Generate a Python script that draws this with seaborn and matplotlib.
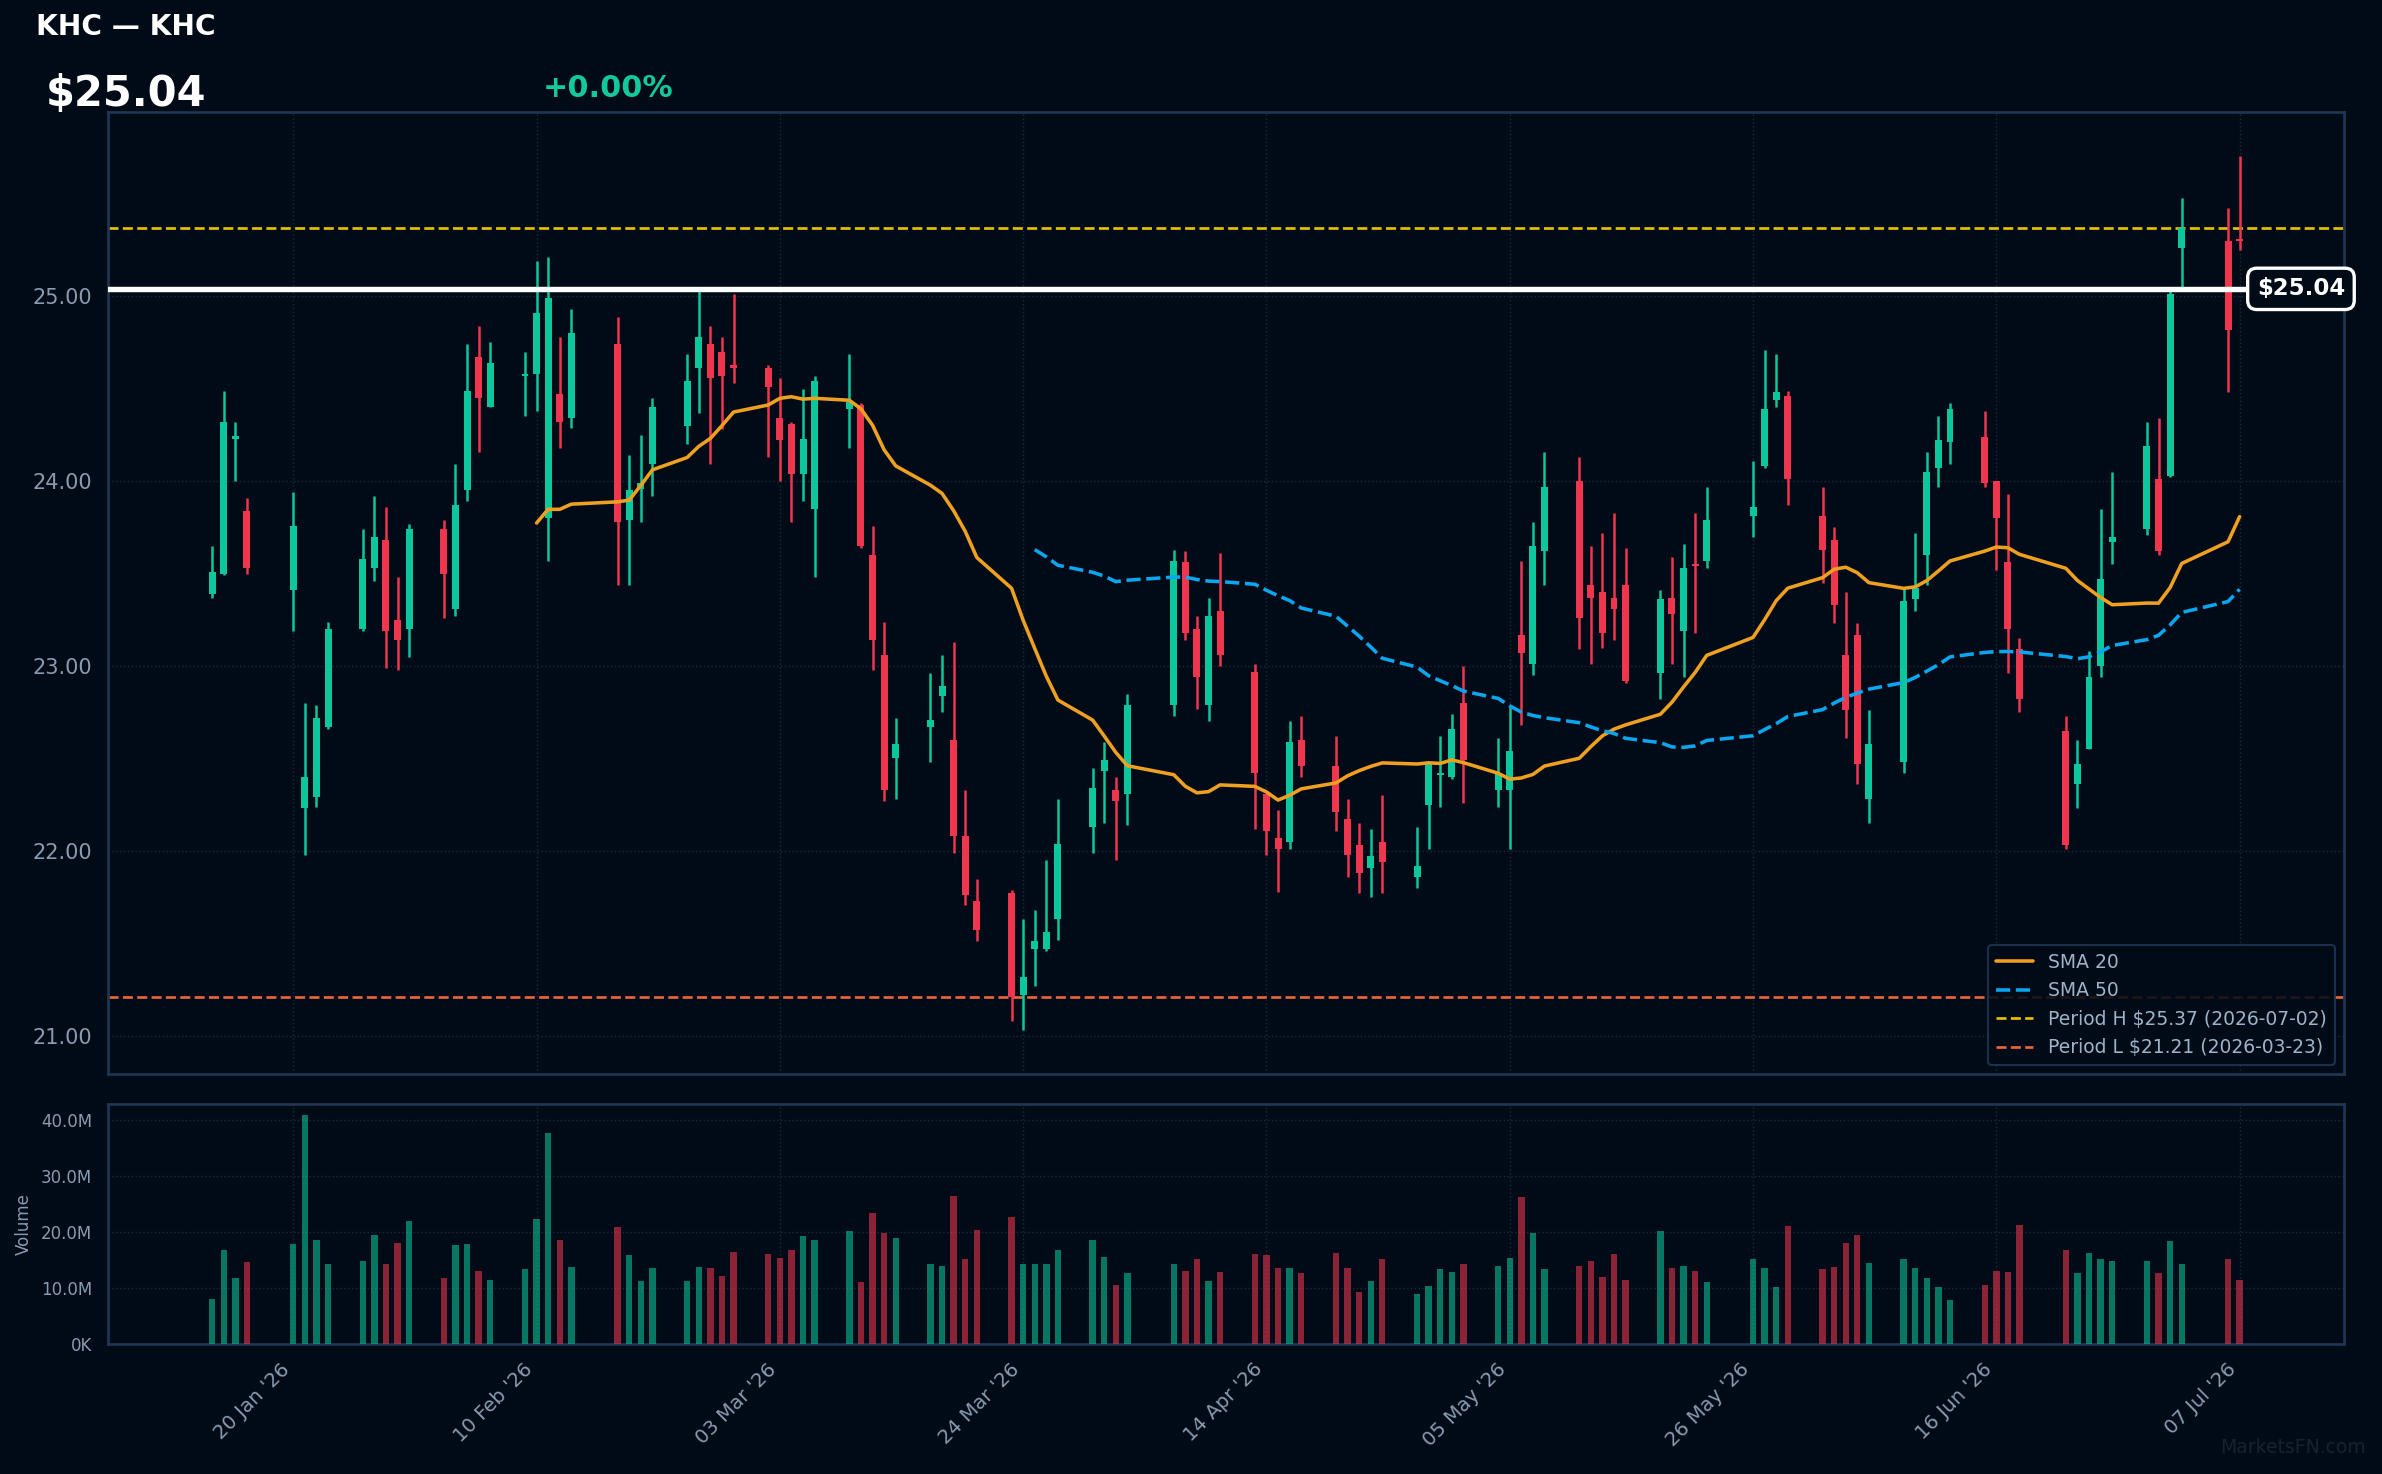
import numpy as np
import pandas as pd
import matplotlib
matplotlib.use("Agg")
import matplotlib.pyplot as plt
import matplotlib.dates as mdates
import matplotlib.ticker as mticker
import matplotlib.transforms as mtransforms
import seaborn as sns

# ---------------- data ----------------
TICKER = "KHC"
NAME = "KHC"
LAST_PRICE = 25.04
CHANGE_PCT = 0.00

HOLIDAYS = ["2026-01-19", "2026-02-16", "2026-04-03", "2026-05-25", "2026-06-19", "2026-07-03"]
dates = pd.bdate_range("2026-01-13", "2026-07-07", freq="C", holidays=HOLIDAYS)

opens = [23.39, 23.50, 24.23, 23.84, 23.41, 22.23, 22.29, 22.67, 23.20, 23.53,
         23.68, 23.25, 23.20, 23.74, 23.31, 23.95, 24.67, 24.40, 24.57, 24.58,
         23.80, 24.47, 24.34, 24.74, 23.79, 23.96, 24.09, 24.30, 24.61, 24.74,
         24.70, 24.63, 24.61, 24.34, 24.31, 24.04, 23.85, 24.39, 24.41, 23.60,
         23.06, 22.50, 22.67, 22.84, 22.60, 22.08, 21.73, 21.77, 21.22, 21.47,
         21.47, 21.63, 22.13, 22.43, 22.33, 22.31, 22.79, 23.56, 23.20, 22.79,
         23.30, 22.97, 22.31, 22.07, 22.05, 22.60, 22.46, 22.17, 22.03, 21.91,
         22.05, 21.86, 22.25, 22.41, 22.40, 22.80, 22.33, 22.33, 23.17, 23.01,
         23.62, 24.00, 23.44, 23.40, 23.37, 23.44, 22.96, 23.37, 23.19, 23.55,
         23.57, 23.81, 24.08, 24.44, 24.46, 23.81, 23.68, 23.06, 23.17, 22.28,
         22.48, 23.36, 23.60, 24.07, 24.21, 24.24, 24.00, 23.56, 23.09, 22.65,
         22.36, 22.55, 23.00, 23.67, 23.74, 24.01, 24.03, 25.26, 25.30, 25.31]
highs = [23.65, 24.49, 24.32, 23.91, 23.94, 22.80, 22.79, 23.24, 23.74, 23.92,
         23.86, 23.48, 23.77, 23.79, 24.09, 24.74, 24.84, 24.75, 24.70, 25.19,
         25.21, 24.78, 24.93, 24.89, 24.14, 24.25, 24.45, 24.69, 25.03, 24.84,
         24.78, 25.01, 24.63, 24.56, 24.32, 24.50, 24.57, 24.69, 24.42, 23.76,
         23.24, 22.72, 22.96, 23.06, 23.13, 22.33, 21.85, 21.79, 21.63, 21.68,
         21.95, 22.28, 22.45, 22.59, 22.40, 22.85, 23.63, 23.62, 23.27, 23.37,
         23.61, 23.01, 22.31, 22.22, 22.70, 22.73, 22.62, 22.28, 22.15, 22.12,
         22.30, 22.13, 22.48, 22.62, 22.74, 23.00, 22.61, 22.78, 23.57, 23.78,
         24.16, 24.13, 23.65, 23.72, 23.83, 23.64, 23.41, 23.59, 23.66, 23.83,
         23.97, 24.11, 24.71, 24.69, 24.49, 23.97, 23.75, 23.40, 23.23, 22.76,
         23.42, 23.72, 24.16, 24.35, 24.42, 24.38, 24.00, 23.93, 23.15, 22.73,
         22.60, 23.08, 23.85, 24.05, 24.32, 24.34, 25.03, 25.53, 25.48, 25.76]
lows = [23.37, 23.49, 24.00, 23.50, 23.19, 21.98, 22.24, 22.66, 23.19, 23.46,
        22.99, 22.98, 23.05, 23.26, 23.27, 23.89, 24.16, 24.40, 24.35, 24.38,
        23.57, 24.18, 24.29, 23.44, 23.44, 23.78, 23.92, 24.20, 24.37, 24.09,
        24.28, 24.53, 24.13, 24.00, 23.78, 23.89, 23.48, 24.18, 23.64, 22.98,
        22.27, 22.28, 22.48, 22.75, 21.99, 21.71, 21.51, 21.08, 21.03, 21.27,
        21.46, 21.52, 21.99, 22.15, 21.95, 22.14, 22.73, 23.14, 22.77, 22.70,
        23.00, 22.12, 21.98, 21.78, 22.01, 22.40, 22.11, 21.86, 21.77, 21.75,
        21.77, 21.80, 22.01, 22.24, 22.39, 22.26, 22.24, 22.01, 22.68, 22.95,
        23.44, 23.09, 23.01, 23.10, 23.14, 22.91, 22.82, 23.01, 22.94, 23.18,
        23.53, 23.70, 24.07, 24.40, 23.87, 23.45, 23.23, 22.61, 22.36, 22.15,
        22.42, 23.30, 23.44, 23.97, 24.09, 23.97, 23.52, 22.96, 22.75, 22.01,
        22.23, 22.55, 22.94, 23.55, 23.71, 23.60, 24.02, 25.05, 24.48, 25.25]
closes = [23.51, 24.32, 24.24, 23.53, 23.76, 22.40, 22.72, 23.20, 23.58, 23.70,
          23.19, 23.14, 23.74, 23.50, 23.87, 24.49, 24.45, 24.64, 24.58, 24.91,
          24.99, 24.32, 24.80, 23.78, 23.95, 23.99, 24.40, 24.54, 24.78, 24.56,
          24.57, 24.61, 24.51, 24.22, 24.04, 24.23, 24.54, 24.43, 23.65, 23.14,
          22.33, 22.58, 22.71, 22.89, 22.08, 21.76, 21.57, 21.21, 21.32, 21.51,
          21.56, 22.04, 22.34, 22.49, 22.27, 22.79, 23.57, 23.18, 22.94, 23.27,
          23.06, 22.42, 22.11, 22.01, 22.59, 22.46, 22.21, 21.98, 21.88, 21.97,
          21.94, 21.92, 22.47, 22.42, 22.66, 22.49, 22.42, 22.54, 23.07, 23.65,
          23.97, 23.26, 23.37, 23.18, 23.31, 22.92, 23.36, 23.28, 23.53, 23.54,
          23.79, 23.86, 24.39, 24.48, 24.01, 23.63, 23.33, 22.76, 22.47, 22.58,
          23.35, 23.42, 24.05, 24.22, 24.39, 23.99, 23.80, 23.20, 22.82, 22.03,
          22.47, 22.94, 23.47, 23.70, 24.19, 23.62, 25.01, 25.37, 24.82, 25.30]
volumes_m = [8.1, 16.8, 11.7, 14.7, 17.9, 40.8, 18.6, 14.2, 14.9, 19.5,
             14.2, 18.1, 22.0, 11.8, 17.6, 17.9, 13.1, 11.5, 13.3, 22.4,
             37.7, 18.6, 13.8, 20.8, 15.8, 11.3, 13.5, 11.3, 13.8, 13.5,
             12.2, 16.5, 16.1, 15.4, 16.7, 19.2, 18.5, 20.1, 11.1, 23.3,
             19.9, 19.0, 14.3, 14.0, 26.5, 15.2, 20.4, 22.7, 14.3, 14.2,
             14.3, 16.7, 18.5, 15.6, 10.6, 12.7, 14.2, 13.1, 15.2, 11.3,
             12.9, 16.0, 15.8, 13.5, 13.6, 12.7, 16.3, 13.6, 9.2, 11.3,
             15.2, 9.0, 10.4, 13.3, 12.9, 14.2, 14.0, 15.4, 26.3, 19.9,
             13.3, 14.0, 14.9, 12.0, 16.1, 11.5, 20.1, 13.6, 14.0, 13.1,
             11.1, 15.2, 13.5, 10.2, 21.1, 13.3, 13.8, 18.1, 19.5, 14.5,
             15.1, 13.5, 11.8, 10.2, 7.9, 10.6, 13.1, 12.9, 21.3, 16.8,
             12.6, 16.3, 15.2, 14.9, 14.9, 12.7, 18.3, 14.3, 15.1, 11.5]
tick_dates = pd.date_range("2026-01-20", "2026-07-07", freq="21D")

# ---------------- style ----------------
BG = "#010b17"
UP = "#0cc79b"
DOWN = "#f0364f"
SPINE = "#1f3653"
GRID = "#1a2838"
TXT = "#8a9bb0"

sns.set_theme(style="dark", rc={"axes.facecolor": BG, "figure.facecolor": BG})
plt.rcParams["font.family"] = ["DejaVu Sans"]

fig = plt.figure(figsize=(2382 / 150, 1474 / 150), dpi=150, facecolor=BG)
ax = fig.add_axes([0.0453, 0.2714, 0.9387, 0.6526])
axv = fig.add_axes([0.0453, 0.0882, 0.9387, 0.1628], sharex=ax)

o = np.array(opens); h = np.array(highs); l = np.array(lows); c = np.array(closes)
x = mdates.date2num(dates.to_pydatetime())
up = c >= o
cols = np.where(up, UP, DOWN)

# candles
ax.vlines(x, l, h, colors=cols, lw=1.2, zorder=3)
body_h = np.maximum(np.abs(c - o), 0.012)
ax.bar(x, body_h, bottom=np.minimum(o, c), width=0.6, color=cols, lw=0, zorder=4)

# SMAs
s20 = pd.Series(c).rolling(20).mean().to_numpy()
s50 = pd.Series(c).rolling(50).mean().to_numpy()
sns.lineplot(x=x, y=s20, ax=ax, color="#f0a020", lw=1.7, label="SMA 20", zorder=5)
sns.lineplot(x=x, y=s50, ax=ax, color="#0aa6ef", lw=1.7, linestyle=(0, (4, 1.6)),
             label="SMA 50", zorder=5)

# period high / low (closes)
ih = int(np.argmax(c)); il = int(np.argmin(c))
ax.axhline(c[ih], color="#e3c000", ls="--", lw=1.3, zorder=2,
           label=f"Period H ${c[ih]:.2f} ({dates[ih]:%Y-%m-%d})")
ax.axhline(c[il], color="#e8643a", ls="--", lw=1.3, zorder=2,
           label=f"Period L ${c[il]:.2f} ({dates[il]:%Y-%m-%d})")

# last price line and tag
ax.axhline(LAST_PRICE, color="white", lw=2.6, zorder=6)
tr = mtransforms.blended_transform_factory(ax.transAxes, ax.transData)
ax.text(0.9808, LAST_PRICE, f"${LAST_PRICE:.2f}", transform=tr, ha="center", va="center",
        fontsize=11, fontweight="bold", color="white", clip_on=False, zorder=10,
        bbox=dict(boxstyle="round,pad=0.4", fc=BG, ec="white", lw=1.6))

# limits
rng = h.max() - l.min()
ax.set_ylim(l.min() - 0.05 * rng, h.max() + 0.05 * rng)
ax.set_xlim(x[0] - 9, x[-1] + 9)

# volume
vcols = np.where(up, UP, DOWN)
axv.bar(x, np.array(volumes_m) * 1e6, width=0.55, color=vcols, alpha=0.58, lw=0, zorder=3)
axv.set_ylim(0, max(volumes_m) * 1e6 * 1.05)
axv.yaxis.set_major_locator(mticker.MultipleLocator(10e6))
axv.yaxis.set_major_formatter(mticker.FuncFormatter(
    lambda v, p: f"{v/1e6:.1f}M" if v >= 1e6 else f"{v/1e3:.0f}K"))
axv.set_ylabel("Volume", color=TXT, fontsize=8)

# axes styling
for a in (ax, axv):
    a.set_facecolor(BG)
    for sp in a.spines.values():
        sp.set_visible(True)
        sp.set_color(SPINE)
        sp.set_linewidth(1.3)
    a.grid(True, color=GRID, ls=":", lw=0.7, zorder=0)
    a.set_axisbelow(True)

ax.yaxis.set_major_locator(mticker.MultipleLocator(1.0))
ax.yaxis.set_major_formatter(mticker.FormatStrFormatter("%.2f"))
ax.tick_params(axis="y", colors=TXT, labelsize=10, length=4, width=0.8)
ax.tick_params(axis="x", labelbottom=False, length=0)

axv.xaxis.set_major_locator(mticker.FixedLocator(mdates.date2num(tick_dates.to_pydatetime())))
axv.xaxis.set_major_formatter(mdates.DateFormatter("%d %b '%y"))
axv.tick_params(axis="x", colors=TXT, labelsize=9.5, length=4, width=0.8)
plt.setp(axv.get_xticklabels(), rotation=45, ha="right")
axv.tick_params(axis="y", colors=TXT, labelsize=8, length=4, width=0.8)

# legend
leg = ax.legend(loc="lower right", fontsize=9, facecolor=BG, edgecolor=SPINE,
                labelcolor="#9fb3c8", framealpha=0.88, fancybox=True)
leg.set_zorder(20)

# header texts
fig.text(0.0151, 0.9817, f"{TICKER} \u2014 {NAME}", color="white", fontsize=13.5,
         fontweight="bold", va="center", ha="left")
fig.text(0.0193, 0.936, f"${LAST_PRICE:.2f}", color="white", fontsize=20,
         fontweight="bold", va="center", ha="left")
fig.text(0.2277, 0.940, f"{CHANGE_PCT:+.2f}%", color="#12c99b", fontsize=14.5,
         fontweight="bold", va="center", ha="left")
fig.text(0.993, 0.018, "MarketsFN.com", color="#16222f", fontsize=9, ha="right", va="center")

fig.savefig("out.png", dpi=150, facecolor=BG)
